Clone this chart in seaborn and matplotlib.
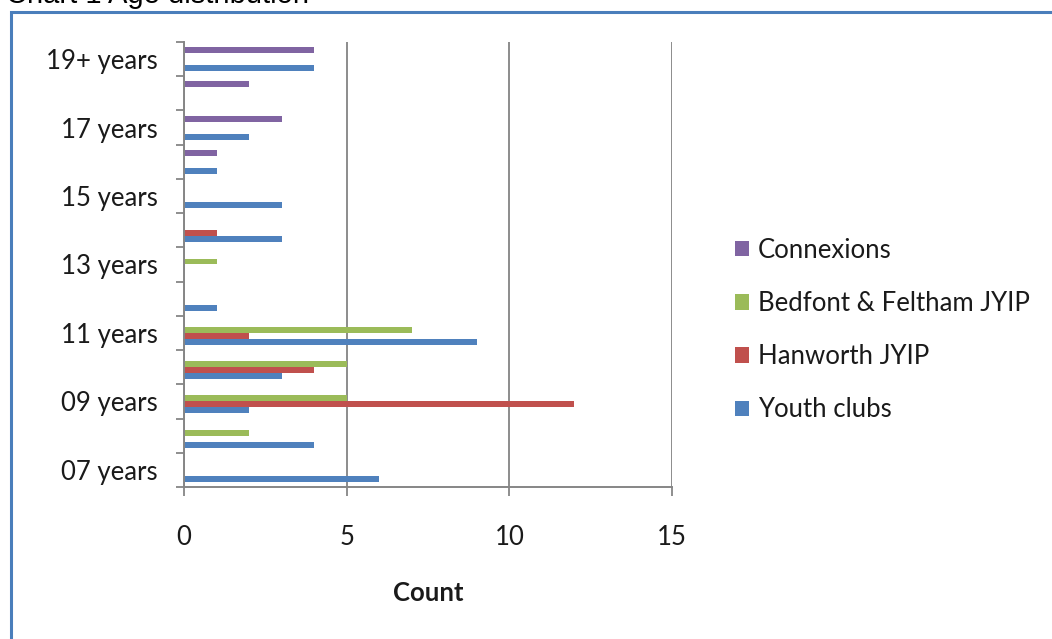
import numpy as np
import pandas as pd
import matplotlib
matplotlib.use("Agg")
import matplotlib.pyplot as plt
import seaborn as sns

# Age bands, listed from youngest to oldest
ages = ["07 years", "08 years", "09 years", "10 years", "11 years", "12 years",
        "13 years", "14 years", "15 years", "16 years", "17 years", "18 years",
        "19+ years"]

# Counts per referral source, same order as ages
youth_clubs = [6, 4, 2, 3, 9, 1, 0, 3, 3, 1, 2, 0, 4]
hanworth = [0, 0, 12, 4, 2, 0, 0, 1, 0, 0, 0, 0, 0]
bedfont = [0, 2, 5, 5, 7, 0, 1, 0, 0, 0, 0, 0, 0]
connexions = [0, 0, 0, 0, 0, 0, 0, 0, 0, 1, 3, 2, 4]

sources = ["Connexions", "Bedfont & Feltham JYIP", "Hanworth JYIP", "Youth clubs"]
colours = ["#8064A2", "#9BBB59", "#C0504D", "#4F81BD"]
x_ticks = [0, 5, 10, 15]

series = {
    "Connexions": connexions,
    "Bedfont & Feltham JYIP": bedfont,
    "Hanworth JYIP": hanworth,
    "Youth clubs": youth_clubs,
}
df = pd.DataFrame(
    [(age, src, vals[i]) for src, vals in series.items() for i, age in enumerate(ages)],
    columns=["Age", "Source", "Count"],
)

sns.set_theme(style="white")
plt.rcParams["font.family"] = ["Lato", "DejaVu Sans"]

FS = 18.5
W, H = 1052, 639
fig = plt.figure(figsize=(W / 100, H / 100), dpi=100)
fig.patch.set_facecolor("white")

# chart frame
frame = plt.Rectangle((10.5 / W, -0.1), 1.2, 1 - 11.5 / H + 0.1,
                      transform=fig.transFigure, fill=False,
                      edgecolor="#4A7EBB", linewidth=2.2, zorder=0)
fig.add_artist(frame)
fig.text(6 / W, 1 - 3 / H, "Chart 1 Age distribution", fontsize=21,
         family=["Liberation Sans", "DejaVu Sans"], va="baseline", ha="left",
         color="black")

left, right, top, bottom = 184, 672, 42, 487
ax = fig.add_axes([left / W, 1 - bottom / H, (right - left) / W, (bottom - top) / H])

order = ages[::-1]
sns.barplot(data=df, y="Age", x="Count", hue="Source", order=order,
            hue_order=sources, palette=colours, saturation=1, orient="h",
            width=0.7, linewidth=0, ax=ax, legend=True)

grey = "#868686"
ax.set_xlim(0, 15)
ax.set_ylim(12.5, -0.5)
ax.set_xticks(x_ticks)
ax.set_xticklabels([str(t) for t in x_ticks])
ax.xaxis.grid(True, color="#8C8C8C", linewidth=1.4)
ax.yaxis.grid(False)
ax.set_axisbelow(True)

label_idx = list(range(0, len(order), 2))
ax.set_yticks(label_idx)
ax.set_yticklabels([order[i] for i in label_idx])
ax.set_yticks(np.arange(-0.5, len(order), 1), minor=True)

ax.tick_params(axis="y", which="major", length=0, pad=19, labelsize=FS,
               labelcolor="#1a1a1a")
ax.tick_params(axis="y", which="minor", length=6, width=1.3, color=grey,
               direction="out", left=True)
ax.tick_params(axis="x", which="major", length=6.5, width=1.3, color=grey,
               direction="out", bottom=True, pad=21, labelsize=FS,
               labelcolor="#1a1a1a")

for s in ["top", "right"]:
    ax.spines[s].set_visible(False)
for s in ["left", "bottom"]:
    ax.spines[s].set_color(grey)
    ax.spines[s].set_linewidth(1.4)

ax.set_ylabel("")
ax.set_xlabel("Count", fontsize=FS, fontweight="bold", labelpad=22,
              color="#1a1a1a")

sns.move_legend(ax, loc="center left", bbox_to_anchor=(735 / W, 1 - 330 / H),
                bbox_transform=fig.transFigure, frameon=False, title=None,
                fontsize=FS, handlelength=0.55, handleheight=0.55,
                handletextpad=0.35, labelspacing=1.1, borderpad=0,
                borderaxespad=0, labelcolor="#1a1a1a")

fig.savefig("out.png", dpi=100, facecolor="white")
